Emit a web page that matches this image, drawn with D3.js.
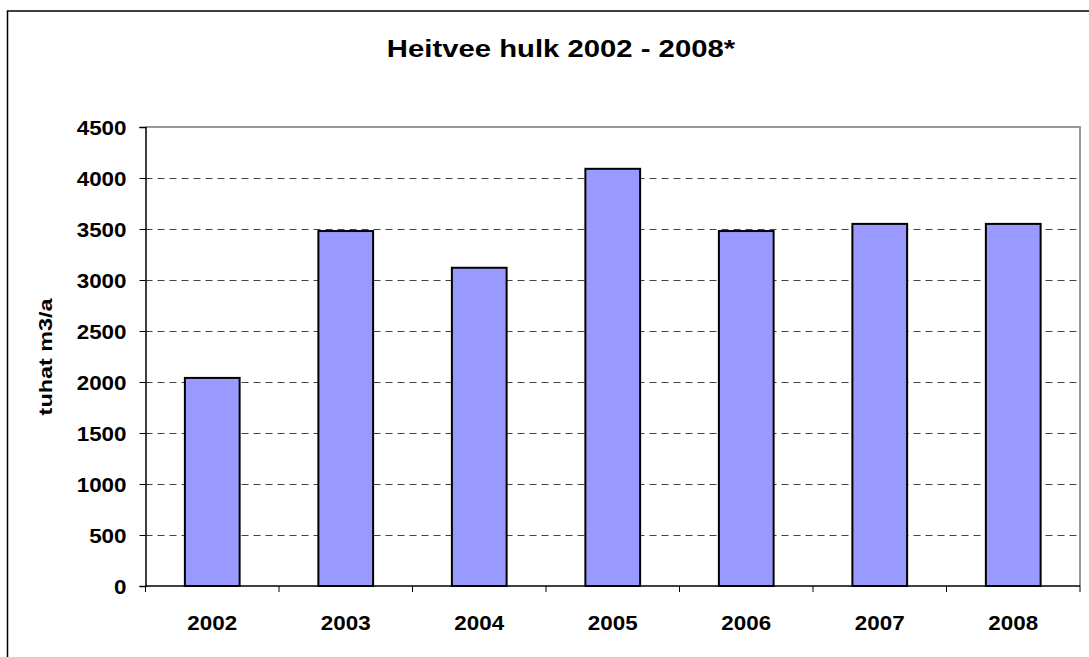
<!DOCTYPE html>
<html><head><meta charset="utf-8">
<script src="https://cdn.jsdelivr.net/npm/d3@7"></script>
<style>html,body{margin:0;padding:0;background:#fff;overflow:hidden}</style>
</head><body>
<svg id="c" width="1089" height="657"></svg>
<script>
const years = ["2002","2003","2004","2005","2006","2007","2008"];
const values = [2040, 3480, 3120, 4090, 3480, 3550, 3550];
const yTicks = [0,500,1000,1500,2000,2500,3000,3500,4000,4500];
const title = "Heitvee hulk 2002 - 2008*";
const yLabel = "tuhat m3/a";

const svg = d3.select("#c");
const font = "'Liberation Sans', Arial, sans-serif";
const L = 145.5, R = 1080, T = 127, B = 586;
const SX = 1.12;

// outer frame
svg.append("rect").attr("x",7.5).attr("y",11).attr("width",1100).attr("height",700)
  .attr("fill","#fff").attr("stroke","#000").attr("stroke-width",1.5);

const x = d3.scaleBand().domain(years).range([L,R]).paddingInner(0.59).paddingOuter(0.295);
const xb = d3.scaleBand().domain(years).range([L,R]).padding(0);
const y = d3.scaleLinear().domain([0,4500]).range([B,T]);

// gridlines
svg.append("g").selectAll("line").data(yTicks.filter(d=>d>0 && d<4500)).join("line")
  .attr("x1",L).attr("x2",R).attr("y1",d=>Math.round(y(d))+0.5).attr("y2",d=>Math.round(y(d))+0.5)
  .attr("stroke","#444").attr("stroke-width",1).attr("stroke-dasharray","7,5");

// plot border top/right
svg.append("path").attr("d",`M${L},${T}H${R}V${B}`).attr("fill","none")
  .attr("stroke","#999").attr("stroke-width",2);

// bars
svg.append("g").selectAll("rect").data(values).join("rect")
  .attr("x",(d,i)=>x(years[i])).attr("width",x.bandwidth())
  .attr("y",d=>y(d)).attr("height",d=>B-y(d))
  .attr("fill","#9999ff").attr("stroke","#000").attr("stroke-width",2);

// y axis
const ya = d3.axisLeft(y).tickValues(yTicks).tickFormat(d3.format("d")).tickSize(6).tickPadding(12);
const gy = svg.append("g").attr("transform",`translate(${L},0)`).call(ya);
gy.select(".domain").attr("stroke","#000").attr("stroke-width",1.5);
gy.selectAll(".tick line").attr("stroke","#000");
gy.selectAll("text").attr("font-family",font).attr("font-weight","bold").attr("font-size",20).attr("fill","#000")
  .attr("x",0).attr("dy","0.36em").attr("transform",`translate(-19,0) scale(${SX},1)`);

// x axis with ticks at category boundaries
const gx = svg.append("g").attr("transform",`translate(0,${B})`);
gx.append("line").attr("x1",L).attr("x2",R).attr("y1",0).attr("y2",0).attr("stroke","#000").attr("stroke-width",1.5);
const bounds = years.map(d=>xb(d)).concat([R]);
gx.selectAll("line.t").data(bounds).join("line").attr("class","t")
  .attr("x1",d=>d).attr("x2",d=>d).attr("y1",0).attr("y2",6).attr("stroke","#000");
gx.selectAll("text").data(years).join("text")
  .attr("transform",d=>`translate(${xb(d)+xb.bandwidth()/2},44) scale(${SX},1)`).attr("text-anchor","middle")
  .attr("font-family",font).attr("font-weight","bold").attr("font-size",20).text(d=>d);

// title
svg.append("text").attr("transform",`translate(561,57) scale(1.22,1)`).attr("text-anchor","middle")
  .attr("font-family",font).attr("font-weight","bold").attr("font-size",24).text(title);

// y label
svg.append("text").attr("transform",`translate(52,357) rotate(-90) scale(1.23,1)`).attr("text-anchor","middle")
  .attr("font-family",font).attr("font-weight","bold").attr("font-size",19).text(yLabel);
</script>
</body></html>
